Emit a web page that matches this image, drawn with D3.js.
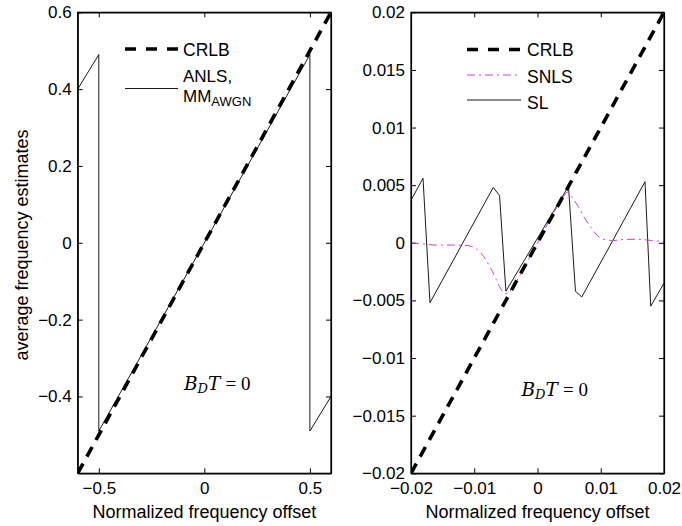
<!DOCTYPE html>
<html>
<head>
<meta charset="utf-8">
<script src="https://cdn.jsdelivr.net/npm/d3@7"></script>
<style>
  body { margin: 0; background: #fff; }
  svg { display: block; }
</style>
</head>
<body>
<svg id="chart" width="682" height="526" font-family="'Liberation Sans', Arial, Helvetica, sans-serif"></svg>
<script>
// ---------- data ----------
const leftXDomain = [-0.6, 0.6];
const leftYDomain = [-0.6, 0.6];
const leftXTicks = [-0.5, 0, 0.5];
const leftXTickLabels = ["\u22120.5", "0", "0.5"];
const leftYTicks = [-0.4, -0.2, 0, 0.2, 0.4, 0.6];
const leftYTickLabels = ["\u22120.4", "\u22120.2", "0", "0.2", "0.4", "0.6"];

const leftCRLBx = [-0.6, 0.6];
const leftCRLBy = [-0.6, 0.6];
const anlsX = [-0.6, -0.5, -0.5, 0.5, 0.5, 0.6];
const anlsY = [0.40, 0.49, -0.49, 0.49, -0.49, -0.40];

const rightXDomain = [-0.02, 0.02];
const rightYDomain = [-0.02, 0.02];
const rightXTicks = [-0.02, -0.01, 0, 0.01, 0.02];
const rightXTickLabels = ["\u22120.02", "\u22120.01", "0", "0.01", "0.02"];
const rightYTicks = [-0.02, -0.015, -0.01, -0.005, 0, 0.005, 0.01, 0.015, 0.02];
const rightYTickLabels = ["\u22120.02", "\u22120.015", "\u22120.01", "\u22120.005", "0", "0.005", "0.01", "0.015", "0.02"];

const rightCRLBx = [-0.02, 0.02];
const rightCRLBy = [-0.02, 0.02];

const snlsX = [-0.020, -0.018, -0.016, -0.014, -0.012, -0.0105, -0.0095, -0.0085, -0.0075, -0.0065, -0.0058, -0.0050, -0.0045, -0.0040, 0, 0.0040, 0.0047, 0.0055, 0.0065, 0.0075, 0.0085, 0.0095, 0.0105, 0.012, 0.014, 0.016, 0.018, 0.020];
const snlsY = [0.0000, -0.0001, -0.0002, -0.0002, -0.0002, -0.0003, -0.0006, -0.0012, -0.0021, -0.0032, -0.0040, -0.0044, -0.0043, -0.0039, 0, 0.0039, 0.0044, 0.0039, 0.0031, 0.0021, 0.0013, 0.0006, 0.0003, 0.0002, 0.0003, 0.0003, 0.0002, 0.0001];

const slX = [-0.020, -0.0181, -0.0170, -0.0070, -0.0060, -0.0050, 0.0049, 0.0060, 0.0070, 0.0170, 0.0179, 0.020];
const slY = [0.0037, 0.0056, -0.0052, 0.0048, 0.0041, -0.0042, 0.0049, -0.0042, -0.0047, 0.0053, -0.0055, -0.0035];

const leftLegend = ["CRLB", "ANLS,", "MM", "AWGN"];
const rightLegend = ["CRLB", "SNLS", "SL"];
const yLabel = "average frequency estimates";
const xLabel = "Normalized frequency offset";

// ---------- drawing ----------
const svg = d3.select("#chart");
const FS_TICK = 17;
const FS_LEG = 17.5;
const FS_LAB = 18;
const TICK = 5;
const yTop = 12.3, yBot = 473.3;

function zip(xs, ys) { return xs.map((x, i) => [x, ys[i]]); }

function panel(id, x0, x1, xDom, yDom, xTicks, xLabels, yTicks, yLabels) {
  const x = d3.scaleLinear().domain(xDom).range([x0, x1]);
  const y = d3.scaleLinear().domain(yDom).range([yBot, yTop]);
  const g = svg.append("g");
  g.append("clipPath").attr("id", id).append("rect")
    .attr("x", x0).attr("y", yTop).attr("width", x1 - x0).attr("height", yBot - yTop);

  const fmtX = d => xLabels[xTicks.indexOf(d)];
  const fmtY = d => yLabels[yTicks.indexOf(d)];

  const ax = (gen, tr) => {
    const a = g.append("g").attr("transform", tr).call(gen);
    a.attr("font-family", null).attr("font-size", null);
    a.select(".domain").attr("stroke", "#000").attr("stroke-width", 1.2);
    a.selectAll(".tick line").attr("stroke", "#000").attr("stroke-width", 1);
    a.selectAll("text").attr("font-size", FS_TICK).attr("fill", "#000");
    return a;
  };
  ax(d3.axisBottom(x).tickValues(xTicks).tickFormat(fmtX).tickSizeInner(-TICK).tickSizeOuter(0).tickPadding(9), `translate(0,${yBot})`);
  ax(d3.axisTop(x).tickValues(xTicks).tickFormat("").tickSizeInner(-TICK).tickSizeOuter(0), `translate(0,${yTop})`);
  ax(d3.axisLeft(y).tickValues(yTicks).tickFormat(fmtY).tickSizeInner(-TICK).tickSizeOuter(0).tickPadding(6), `translate(${x0},0)`);
  ax(d3.axisRight(y).tickValues(yTicks).tickFormat("").tickSizeInner(-TICK).tickSizeOuter(0), `translate(${x1},0)`);

  const plot = g.append("g").attr("clip-path", `url(#${id})`);
  const line = d3.line().x(d => x(d[0])).y(d => y(d[1]));
  return { x, y, g, plot, line };
}

// left panel
const L = panel("clipL", 77.7, 331, leftXDomain, leftYDomain, leftXTicks, leftXTickLabels, leftYTicks, leftYTickLabels);
L.plot.append("path").datum(zip(anlsX, anlsY)).attr("d", L.line)
  .attr("fill", "none").attr("stroke", "#000").attr("stroke-width", 0.9);
L.plot.append("path").datum(zip(leftCRLBx, leftCRLBy)).attr("d", L.line)
  .attr("fill", "none").attr("stroke", "#000").attr("stroke-width", 3.6).attr("stroke-dasharray", "11,8");

// right panel
const R = panel("clipR", 411, 664, rightXDomain, rightYDomain, rightXTicks, rightXTickLabels, rightYTicks, rightYTickLabels);
R.plot.append("path").datum(zip(slX, slY)).attr("d", R.line)
  .attr("fill", "none").attr("stroke", "#000").attr("stroke-width", 0.9);
R.plot.append("path").datum(zip(snlsX, snlsY)).attr("d", R.line.curve(d3.curveMonotoneX))
  .attr("fill", "none").attr("stroke", "#d23ad2").attr("stroke-width", 1).attr("stroke-dasharray", "8,4,2,4");
R.line.curve(d3.curveLinear);
R.plot.append("path").datum(zip(rightCRLBx, rightCRLBy)).attr("d", R.line)
  .attr("fill", "none").attr("stroke", "#000").attr("stroke-width", 3.6).attr("stroke-dasharray", "11,8");

// redraw frames on top
[[77.7, 331], [411, 664]].forEach(([a, b]) => {
  svg.append("rect").attr("x", a).attr("y", yTop).attr("width", b - a).attr("height", yBot - yTop)
    .attr("fill", "none").attr("stroke", "#000").attr("stroke-width", 1.2);
});

// legends
function legLine(x0, x1, yy, stroke, w, dash) {
  svg.append("line").attr("x1", x0).attr("x2", x1).attr("y1", yy).attr("y2", yy)
    .attr("stroke", stroke).attr("stroke-width", w).attr("stroke-dasharray", dash || null);
}
function txt(s, xx, yy, size, anchor) {
  return svg.append("text").attr("x", xx).attr("y", yy).attr("font-size", size)
    .attr("text-anchor", anchor || "start").attr("fill", "#000").text(s);
}
legLine(125, 178, 49, "#000", 3.6, "11,10");
txt(leftLegend[0], 183, 55.5, FS_LEG);
legLine(125, 178, 88.5, "#000", 0.9);
txt(leftLegend[1], 183, 81.5, 17);
const t3 = svg.append("text").attr("x", 183).attr("y", 101.5).attr("font-size", 17).attr("fill", "#000");
t3.append("tspan").text(leftLegend[2]);
t3.append("tspan").attr("font-size", 13).attr("dy", 4).text(leftLegend[3]);

legLine(467, 521, 49.5, "#000", 3.6, "11,10");
txt(rightLegend[0], 527, 56, FS_LEG);
legLine(467, 521, 75, "#d23ad2", 1, "8,4,2,4");
txt(rightLegend[1], 527, 82.5, FS_LEG);
legLine(467, 521, 100, "#000", 0.9);
txt(rightLegend[2], 527, 108.5, FS_LEG);

// B_D T = 0 annotations
function bdt(xx, yy) {
  const t = svg.append("text").attr("x", xx).attr("y", yy).attr("font-size", 18.5)
    .attr("font-family", "'DejaVu Serif', 'Liberation Serif', serif").attr("fill", "#000");
  t.append("tspan").attr("font-style", "italic").text("B");
  t.append("tspan").attr("font-style", "italic").attr("font-size", 13).attr("dy", 3).text("D");
  t.append("tspan").attr("font-style", "italic").attr("dy", -3).text("T");
  t.append("tspan").attr("font-family", "'Liberation Serif', serif").attr("font-size", 19).attr("dx", 5).text("=");
  t.append("tspan").attr("font-family", "'Liberation Serif', serif").attr("font-size", 19).attr("dx", 5).text("0");
}
bdt(184, 390);
bdt(521.5, 396);

// axis labels
txt(xLabel, 204.3, 517.5, FS_LAB, "middle");
txt(xLabel, 537.5, 517.5, FS_LAB, "middle");
svg.append("text").attr("transform", "translate(28,245) rotate(-90)")
  .attr("text-anchor", "middle").attr("font-size", FS_LAB).attr("fill", "#000").text(yLabel);
</script>
</body>
</html>
